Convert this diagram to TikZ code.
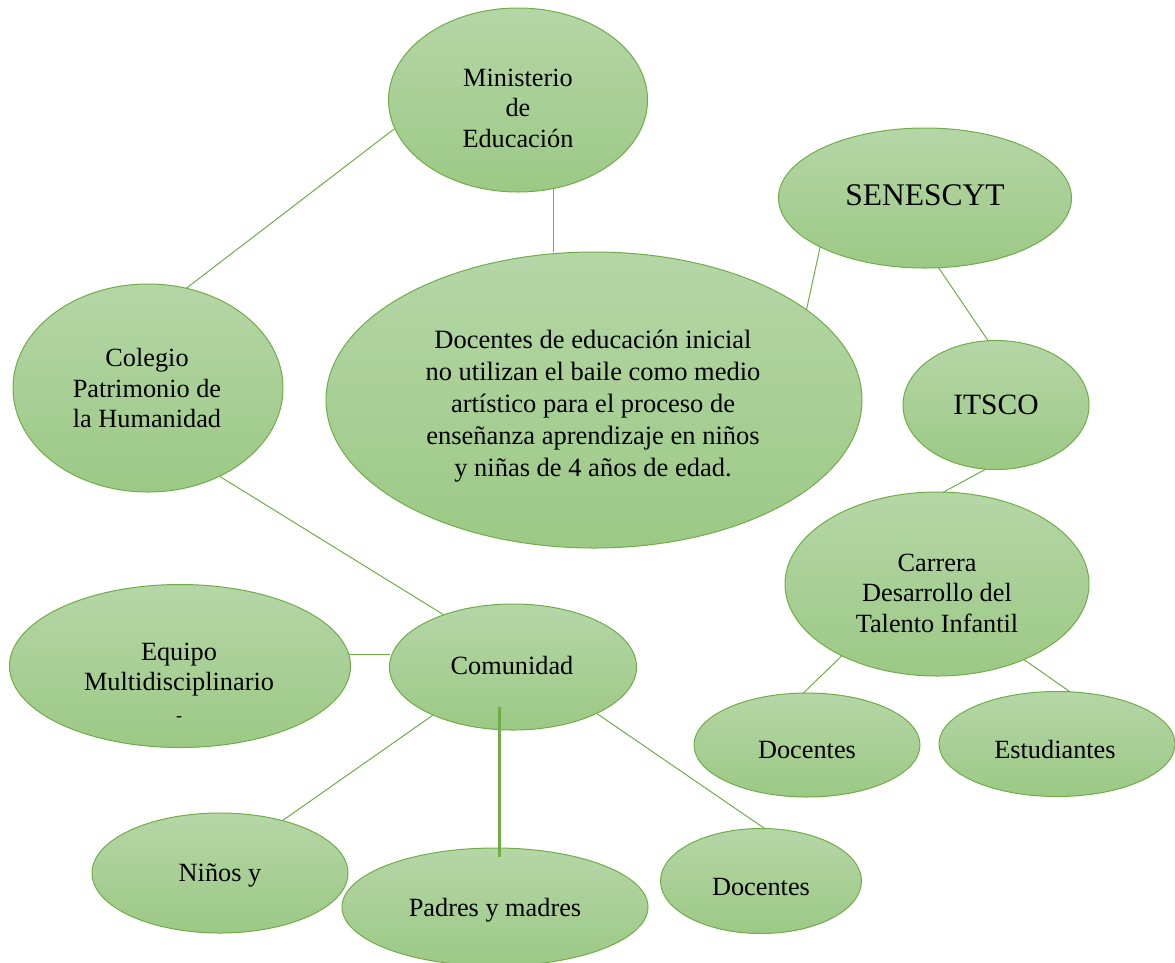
\documentclass[tikz,border=0pt]{standalone}
\usepackage{fontspec}
\setmainfont{Liberation Serif}
\usetikzlibrary{shapes.geometric,calc}
\definecolor{gtop}{HTML}{B5D6A7}
\definecolor{gbot}{HTML}{9CC985}
\definecolor{gline}{HTML}{70AD47}
\tikzset{
  oval/.style={ellipse, draw=gline, line width=1pt, top color=gtop, bottom color=gbot, inner sep=0pt, outer sep=0pt},
  lbl/.style={align=center, inner sep=0pt, text=black, font=\fontsize{26.3}{30.5}\selectfont},
  conn/.style={draw=gline, line width=1pt},
  thickconn/.style={draw=gline, line width=2.6pt},
}
\begin{document}
\begin{tikzpicture}[x=1pt,y=-1pt]
\useasboundingbox (0,0) rectangle (1175,962);
% ellipses
\node[oval, minimum width=259pt, minimum height=184pt] (min) at (518,100) {};
\node[oval, minimum width=293pt, minimum height=140pt] (sen) at (925,198) {};
\node[oval, minimum width=536pt, minimum height=296pt] (cen) at (594,400) {};
\node[oval, minimum width=270pt, minimum height=208pt] (col) at (148,388) {};
\node[oval, minimum width=186pt, minimum height=129pt] (its) at (996,405) {};
\node[oval, minimum width=304pt, minimum height=184pt] (car) at (937,584) {};
\node[oval, minimum width=341pt, minimum height=163pt] (equ) at (180,666) {};
\node[oval, minimum width=247pt, minimum height=126pt] (com) at (513,667) {};
\node[oval, minimum width=226pt, minimum height=104pt] (doa) at (807,745) {};
\node[oval, minimum width=236pt, minimum height=105pt] (est) at (1057,744) {};
\node[oval, minimum width=256pt, minimum height=120pt] (nin) at (220,873) {};
\node[oval, minimum width=306pt, minimum height=118pt] (pad) at (495,907) {};
\node[oval, minimum width=201pt, minimum height=105pt] (dob) at (761,881) {};
% labels
\node[lbl] (tmin) at (518,108) {Ministerio\\de\\Educación};
\node[lbl, font=\fontsize{31.5}{36}\selectfont] (tsen) at (925,195) {SENESCYT};
\node[lbl, font=\fontsize{26.5}{32}\selectfont] (tcen) at (593,406) {Docentes de educación inicial\\no utilizan el baile como medio\\artístico para el proceso de\\enseñanza aprendizaje en niños\\y niñas de 4 años de edad.};
\node[lbl] (tcol) at (147,388) {Colegio\\Patrimonio de\\la Humanidad};
\node[lbl, font=\fontsize{29.5}{34}\selectfont] (tits) at (996,405) {ITSCO};
\node[lbl] (tcar) at (937,593) {Carrera\\Desarrollo del\\Talento Infantil};
\node[lbl] (tequ) at (179,682) {Equipo\\Multidisciplinario\\{\fontsize{18}{30.5}\selectfont -}};
\node[lbl] (tcom) at (512,665) {Comunidad};
\node[lbl] (tdoa) at (807,750) {Docentes};
\node[lbl] (test) at (1055,749) {Estudiantes};
\node[lbl] (tnin) at (220,875) {Niños y};
\node[lbl] (tpad) at (495,910) {Padres y madres};
\node[lbl] (tdob) at (761,887) {Docentes};
% connectors
\draw[conn] (min.193.1) -- (col.69);
\draw[conn] (min.292.7) -- (min.292.7 |- cen.north);
\draw[conn] (sen.205.9) -- (cen.23.9);
\draw[conn] (sen.281) -- (its.97.1);
\draw[conn] (its.261.3) -- (car.86.9);
\draw[conn] (col.309.7) -- (com.143.4);
\draw[conn] (equ.4.7) -- (equ.4.7 -| com.west);
\draw[conn] (com.211.7) -- (nin.40.6);
\draw[thickconn, shorten <=-23pt, shorten >=-9pt] (com.258.3) -- (com.258.3 |- pad.north);
\draw[conn] (com.331.1) -- (dob.86.8);
\draw[conn] (car.217.2) -- (doa.94.4);
\draw[conn] (car.319.1) -- (est.76);
\end{tikzpicture}
\end{document}
